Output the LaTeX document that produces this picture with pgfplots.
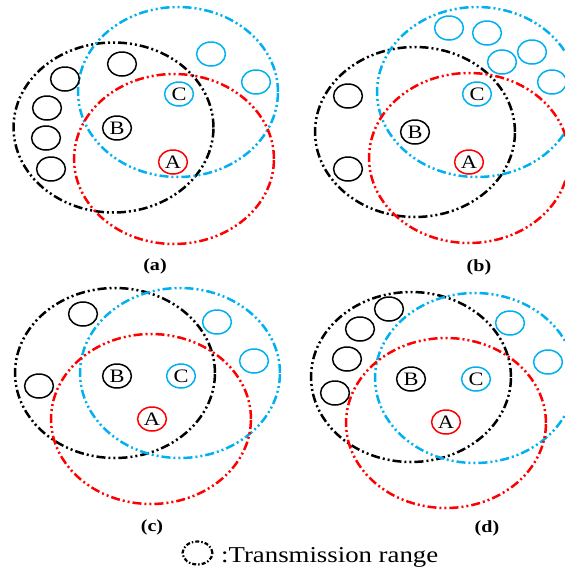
\documentclass[border=0pt]{standalone}
\usepackage{fontspec}
\setmainfont{Liberation Serif}
\usepackage{graphicx}
\usepackage{pgfplots}
\pgfplotsset{compat=1.18}
\definecolor{cblue}{RGB}{0,176,240}
\definecolor{cred}{RGB}{255,0,0}
\tikzset{bigdash/.style={line width=2.5pt, dash pattern=on 9pt off 3pt on 2pt off 3pt on 2pt off 3pt}}
\begin{document}
\begin{tikzpicture}
\begin{axis}[
  width=565pt, height=571pt, scale only axis,
  xmin=0, xmax=565, ymin=0, ymax=571, y dir=reverse,
  axis lines=none, clip=false,
]
% big transmission ranges (ellipses: stretched circles)
\addplot[only marks, mark=o, black, mark size=85pt, mark options={xscale=1.176, bigdash}]
  coordinates {(113.5,127.5) (415,132) (115,373) (411,377)};
\addplot[only marks, mark=o, cblue, mark size=85pt, mark options={xscale=1.176, bigdash}]
  coordinates {(178,92) (477,92) (180,373) (475,378)};
\addplot[only marks, mark=o, cred, mark size=85pt, mark options={xscale=1.176, bigdash}]
  coordinates {(174,159) (469,158) (151,419) (446,423)};
% small neighbour nodes
\addplot[only marks, mark=o, black, mark size=12pt, mark options={xscale=1.2, line width=1.5pt, solid}]
  coordinates {(122,64) (65,79) (47,108) (46,138) (51,169)
               (348,96) (348,169)
               (83,314) (39,386)
               (389,309) (360,329) (347,359) (335,393)};
\addplot[only marks, mark=o, cblue, mark size=12pt, mark options={xscale=1.2, line width=1.5pt, solid}]
  coordinates {(211,54) (256,82)
               (449,28) (487,33) (502,62) (532,52) (552,82)
               (217,322) (254,361)
               (510,323) (548,362)};
% labelled nodes A, B, C
\addplot[only marks, mark=o, cred, mark size=12pt, mark options={xscale=1.2, line width=1.5pt, solid},
  nodes near coords={\scalebox{1.18}[1]{\fontsize{19}{19}\selectfont\pgfplotspointmeta}},
  point meta=explicit symbolic, nodes near coords align=center,
  nodes near coords style={text=black, inner sep=0pt}]
  coordinates {(173,162)[A] (469,162)[A] (152,419)[A] (446,422)[A]};
\addplot[only marks, mark=o, black, mark size=12pt, mark options={xscale=1.2, line width=1.5pt, solid},
  nodes near coords={\scalebox{1.18}[1]{\fontsize{19}{19}\selectfont\pgfplotspointmeta}},
  point meta=explicit symbolic, nodes near coords align=center,
  nodes near coords style={text=black, inner sep=0pt}]
  coordinates {(117,128)[B] (415,132)[B] (117,376)[B] (411,379)[B]};
\addplot[only marks, mark=o, cblue, mark size=12pt, mark options={xscale=1.2, line width=1.5pt, solid},
  nodes near coords={\scalebox{1.18}[1]{\fontsize{19}{19}\selectfont\pgfplotspointmeta}},
  point meta=explicit symbolic, nodes near coords align=center,
  nodes near coords style={text=black, inner sep=0pt}]
  coordinates {(179,94)[C] (477,94)[C] (181,376)[C] (476,379)[C]};
% legend symbol
\addplot[only marks, mark=o, black, mark size=11.5pt, mark options={xscale=1.3, line width=2.2pt, dash pattern=on 4pt off 2pt on 1.5pt off 2pt}]
  coordinates {(197.5,553)};
% sub-figure captions
\node at (axis cs:155,266) {\scalebox{1.18}[1]{\fontsize{17}{17}\selectfont\bfseries (a)}};
\node at (axis cs:479,267) {\scalebox{1.18}[1]{\fontsize{17}{17}\selectfont\bfseries (b)}};
\node at (axis cs:152,527) {\scalebox{1.18}[1]{\fontsize{17}{17}\selectfont\bfseries (c)}};
\node at (axis cs:487,528) {\scalebox{1.18}[1]{\fontsize{17}{17}\selectfont\bfseries (d)}};
\node[anchor=base west, inner sep=0pt] at (axis cs:221,562) {\scalebox{1.18}[1]{\fontsize{22.7}{22.7}\selectfont :Transmission range}};
\end{axis}
\pgfresetboundingbox
\path (current axis.south west) rectangle (current axis.north east);
\end{tikzpicture}
\end{document}
